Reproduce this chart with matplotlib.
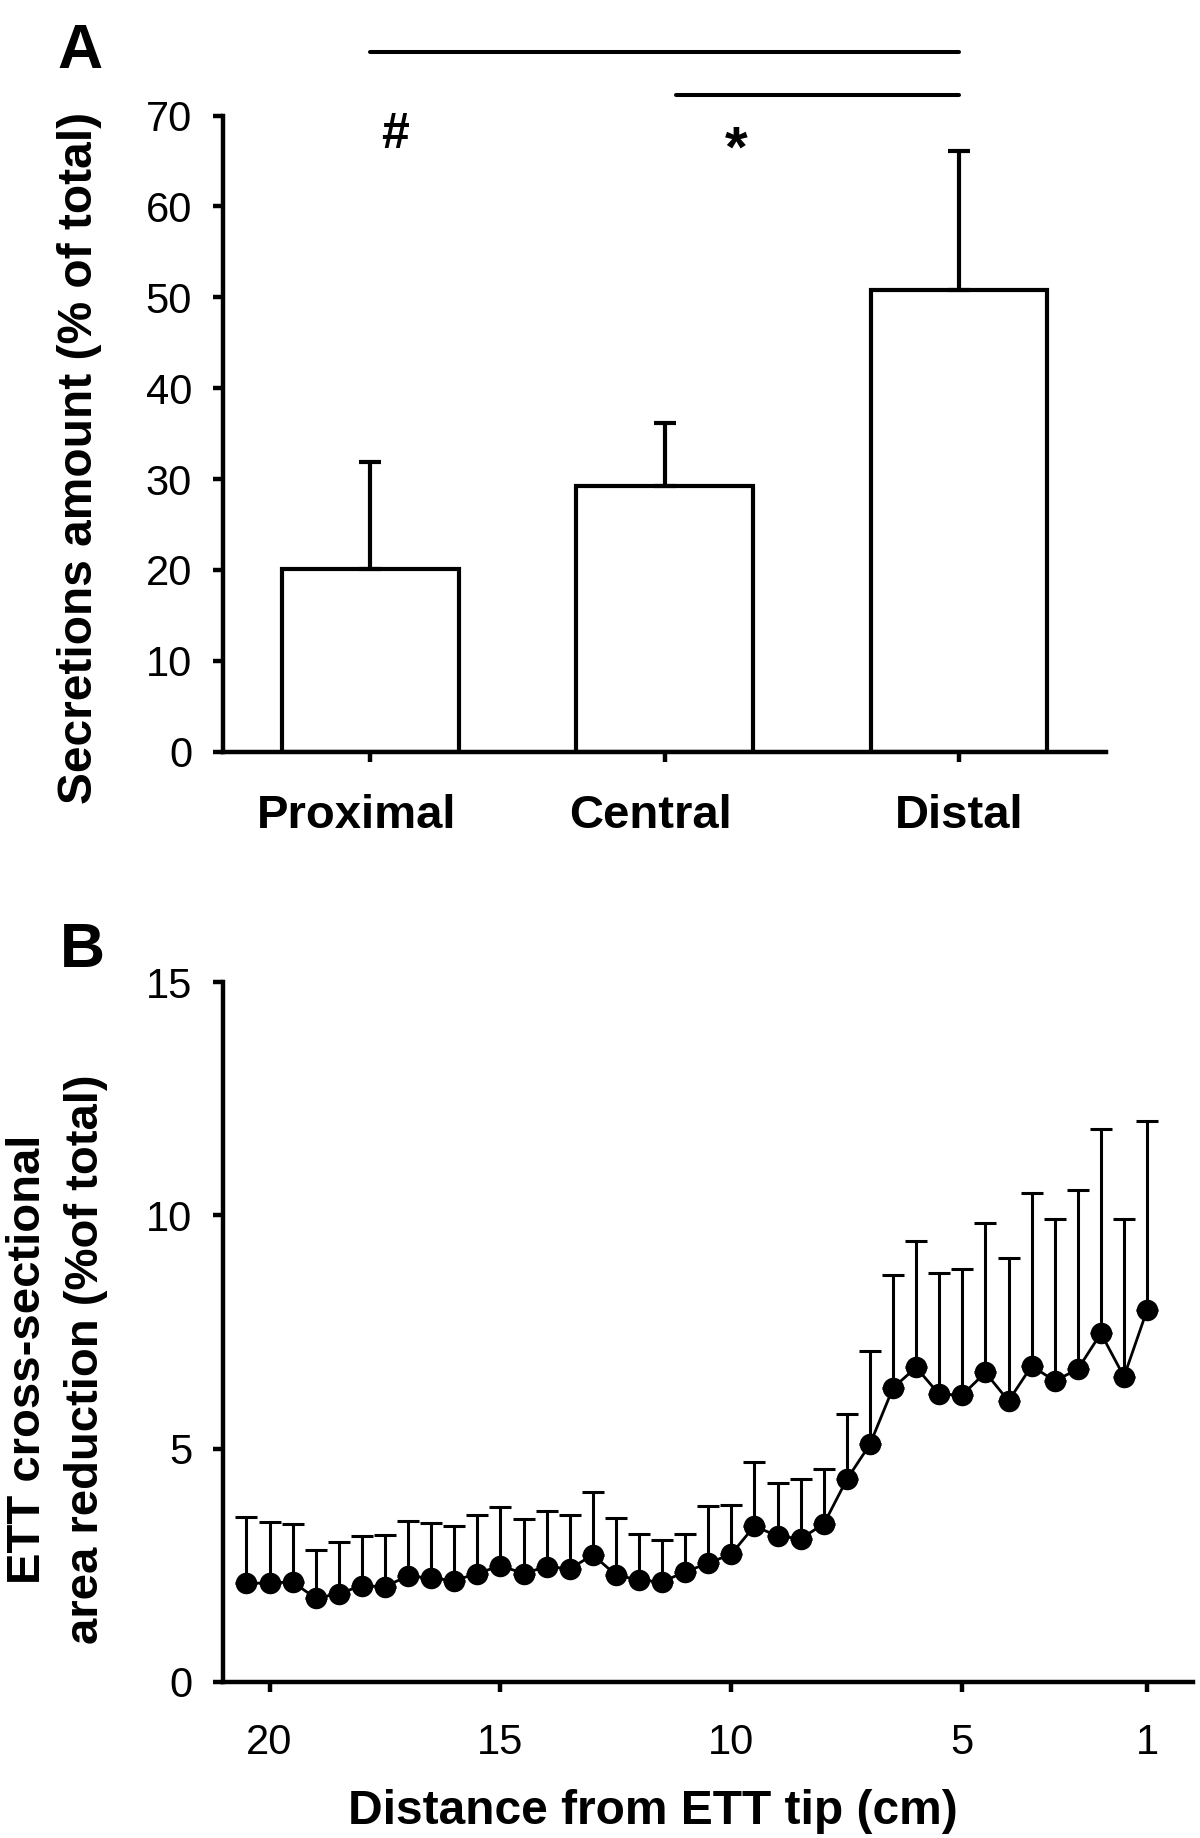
import matplotlib
matplotlib.use('Agg')
import matplotlib.pyplot as plt
import matplotlib.transforms as mtransforms
import numpy as np

plt.rcParams['font.family'] = ['Liberation Sans', 'DejaVu Sans']

# panel A - secretions by ETT segment
regions = ['Proximal', 'Central', 'Distal']
secretion_mean = [20.1, 29.2, 50.8]
secretion_sd = [11.8, 7.0, 15.3]

# panel B - cross-sectional area reduction along the tube
distance_cm = [20.5, 20, 19.5, 19, 18.5, 18, 17.5, 17, 16.5, 16,
               15.5, 15, 14.5, 14, 13.5, 13, 12.5, 12, 11.5, 11,
               10.5, 10, 9.5, 9, 8.5, 8, 7.5, 7, 6.5, 6,
               5.5, 5, 4.5, 4, 3.5, 3, 2.5, 2, 1.5, 1]
area_mean = [2.11, 2.12, 2.14, 1.79, 1.89, 2.06, 2.04, 2.27, 2.22, 2.17,
             2.32, 2.49, 2.32, 2.47, 2.42, 2.72, 2.29, 2.18, 2.14, 2.36,
             2.54, 2.74, 3.34, 3.12, 3.07, 3.38, 4.34, 5.09, 6.30, 6.74,
             6.16, 6.15, 6.63, 6.02, 6.77, 6.45, 6.70, 7.47, 6.54, 7.97]
area_sd = [1.43, 1.31, 1.24, 1.03, 1.11, 1.06, 1.10, 1.18, 1.19, 1.17,
           1.25, 1.25, 1.16, 1.19, 1.15, 1.35, 1.23, 0.98, 0.90, 0.80,
           1.23, 1.05, 1.38, 1.15, 1.27, 1.19, 1.41, 2.01, 2.43, 2.71,
           2.61, 2.70, 3.21, 3.06, 3.71, 3.47, 3.84, 4.39, 3.37, 4.06]

fig = plt.figure(figsize=(12, 18.38), dpi=100)
axA = fig.add_axes([0.1861, 0.5911, 0.7355, 0.3460])
axB = fig.add_axes([0.1861, 0.0850, 0.8083, 0.3807])

for ax in (axA, axB):
    ax.spines['top'].set_visible(False)
    ax.spines['right'].set_visible(False)
    ax.spines['left'].set_linewidth(3.2)
    ax.spines['bottom'].set_linewidth(3.2)
    ax.tick_params(direction='out', length=7.5, width=3.2, labelsize=30)
    ax.tick_params(axis='y', pad=15)

# ---- A ----
xA = np.arange(len(regions))
axA.bar(xA, secretion_mean, width=0.6, color='white', edgecolor='black',
        linewidth=3, zorder=2)
axA.errorbar(xA, secretion_mean, yerr=[np.zeros(len(xA)), secretion_sd],
             fmt='none', ecolor='black', elinewidth=3, capsize=8, capthick=3,
             zorder=3)
axA.set_xlim(-0.5, 2.5)
axA.set_ylim(0, 70)
axA.set_yticks(range(0, 80, 10))
axA.set_xticks(xA)
axA.set_xticklabels(regions, fontsize=34, fontweight='bold')
axA.tick_params(axis='x', pad=23)
# first two labels sit a little left of their ticks in the original
for lab, dx in zip(axA.get_xticklabels(), [-0.14, -0.14, 0.0]):
    lab.set_transform(lab.get_transform() +
                      mtransforms.ScaledTranslation(dx, 0, fig.dpi_scale_trans))

# significance bars
axA.plot([0, 2], [77, 77], color='black', lw=2.9, clip_on=False,
         solid_capstyle='round')
axA.plot([1.04, 2], [72.3, 72.3], color='black', lw=2.9, clip_on=False,
         solid_capstyle='round')
axA.text(0.085, 66.4, '#', ha='center', va='baseline', fontsize=36,
         fontweight='bold')
axA.text(1.245, 64.4, '*', ha='center', va='baseline', fontsize=42,
         fontweight='bold')

axA.text(-0.1624, 0.4617, 'Secretions amount (% of total)',
         transform=axA.transAxes, rotation=90, ha='center', va='center',
         fontsize=34.5, fontweight='bold')

# ---- B ----
axB.errorbar(distance_cm, area_mean, yerr=[np.zeros(len(area_sd)), area_sd],
             fmt='o-', color='black', ms=14.5, lw=2, elinewidth=2.2,
             capsize=8, capthick=2.2)
axB.set_xlim(21, 0)
axB.set_ylim(0, 15)
axB.set_xticks([20, 15, 10, 5, 1])
axB.set_yticks([0, 5, 10, 15])
axB.tick_params(axis='x', pad=22)

axB.text(0.443, -0.186, 'Distance from ETT tip (cm)', transform=axB.transAxes,
         ha='center', va='center', fontsize=34.5, fontweight='bold')
axB.text(-0.1714, 0.461, 'ETT cross-sectional\narea reduction (%of total)',
         transform=axB.transAxes, rotation=90, ha='center', va='center',
         multialignment='center', linespacing=1.4, fontsize=34,
         fontweight='bold')

fig.text(0.048, 1 - 68 / 1838, 'A', fontsize=45, fontweight='bold',
         va='baseline')
fig.text(0.050, 1 - 967 / 1838, 'B', fontsize=45, fontweight='bold',
         va='baseline')

fig.savefig('out.png', dpi=100)
